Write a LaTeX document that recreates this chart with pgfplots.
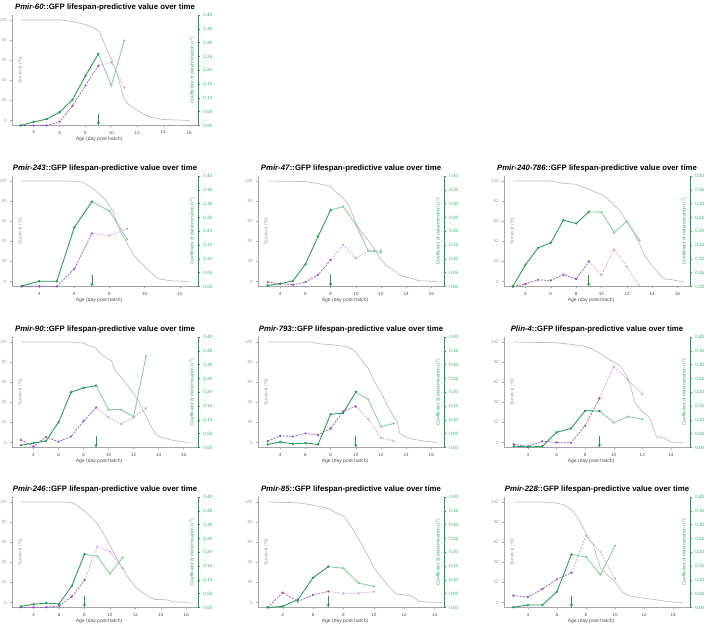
\documentclass[border=0pt]{standalone}
\usepackage{fontspec}
\setmainfont{Liberation Sans}
\usepackage{pgfplots}
\pgfplotsset{compat=1.18}
\usetikzlibrary{arrows.meta}
\definecolor{survgray}{HTML}{BDBDBD}
\definecolor{axgray}{HTML}{A5A5A5}
\definecolor{tickgray}{HTML}{A0A0A0}
\definecolor{textgray}{HTML}{505050}
\definecolor{gr}{HTML}{229954}
\definecolor{grlight}{HTML}{8CCB9F}
\definecolor{grtick}{HTML}{3BAA66}
\definecolor{pu}{HTML}{9A4FC4}
\definecolor{pulight}{HTML}{C8A6DE}

\pgfplotsset{
  base/.style={scale only axis, width=186pt, height=110.5pt, anchor=north west, clip=false,
    tick align=outside, major tick length=1.8pt,
    every tick label/.append style={font=\fontsize{4.6}{5.5}\selectfont},
    /pgf/number format/assume math mode=true},
  surv/.style={base, ymin=-5, ymax=105, ytick={0,20,40,60,80,100},
    axis y line*=left, axis x line*=bottom,
    y axis line style={draw=axgray, line width=0.4pt, -},
    x axis line style={draw=axgray, line width=0.4pt, -},
    ytick style={draw=axgray, line width=0.4pt}, xtick style={draw=axgray, line width=0.4pt},
    yticklabel style={text=tickgray}, xticklabel style={text=textgray},
    xlabel={Age (day post-hatch)},
    xlabel style={font=\fontsize{5}{6}\selectfont, text=textgray, at={(axis description cs:0.468,0)}, anchor=center, yshift=-13.5pt},
    title style={font=\bfseries\fontsize{7.8}{9}\selectfont, text=black, at={(0.5,1)}, anchor=base, yshift=0pt}},
  rsq/.style={base, ymin=0, ymax=0.4, ytick={0,0.05,0.1,0.15,0.2,0.25,0.3,0.35,0.4},
    axis y line*=right, axis x line=none,
    y axis line style={draw=gr, line width=0.4pt, -}, ytick style={draw=gr, line width=0.4pt},
    yticklabel style={text=grtick, /pgf/number format/.cd, fixed, fixed zerofill, precision=2}},
  survline/.style={survgray, line width=0.7pt, no marks},
  gdark/.style={gr, line width=0.85pt, mark=*, mark size=0.7pt},
  glight/.style={grlight, line width=0.85pt, mark=*, mark size=0.7pt},
  pdark/.style={pu, line width=0.7pt, dash pattern=on 2pt off 1.2pt, mark=*, mark size=0.7pt, mark options={solid}},
  plight/.style={pulight, line width=0.7pt, dash pattern=on 2pt off 1.2pt, mark=*, mark size=0.7pt, mark options={solid}},
  arr/.style={draw=gr, fill=gr, line width=0.6pt, no marks, -{Stealth[length=3.6pt, width=3.2pt]}},
  p1/.style={at={(12pt,-15pt)}, xmin=2.33, xmax=16.69, xtick={4,6,...,16}},
  p2/.style={at={(12pt,-176pt)}, xmin=2.45, xmax=13.04, xtick={4,6,...,12}},
  p3/.style={at={(258pt,-176pt)}, xmin=2.23, xmax=17.01, xtick={4,6,...,16}},
  p4/.style={at={(504pt,-176pt)}, xmin=2.31, xmax=16.99, xtick={4,6,...,16}},
  p5/.style={at={(12pt,-337pt)}, xmin=2.28, xmax=17.15, xtick={4,6,...,16}},
  p6/.style={at={(258pt,-337pt)}, xmin=2.23, xmax=17.01, xtick={4,6,...,16}},
  p7/.style={at={(504pt,-337pt)}, xmin=2.32, xmax=15.34, xtick={4,6,...,14}},
  p8/.style={at={(12pt,-497pt)}, xmin=2.30, xmax=16.92, xtick={4,6,...,16}},
  p9/.style={at={(258pt,-497pt)}, xmin=2.37, xmax=14.62, xtick={4,6,...,14}},
  p10/.style={at={(504pt,-497pt)}, xmin=2.36, xmax=15.16, xtick={4,6,...,14}},
}

% #1 position style, #2 title, #3 survival, #4/#5 r2 before/after, #6/#7 purple before/after, #8 arrow day
\newcommand{\panel}[8]{%
  \begin{axis}[surv, #1, title={#2}]
    \addplot[survline] coordinates {#3};
    \node[rotate=90, font=\fontsize{5}{6}\selectfont, text=tickgray] at (rel axis cs:0.045,0.5) {Survival (\%)};
  \end{axis}
  \begin{axis}[rsq, #1]
    \addplot[plight] coordinates {#7};
    \addplot[glight] coordinates {#5};
    \addplot[pdark] coordinates {#6};
    \addplot[gdark] coordinates {#4};
    \addplot[arr] coordinates {(#8,0.042) (#8,0.0)};
    \node[rotate=90, font=\fontsize{4.8}{6}\selectfont, text=grtick] at (rel axis cs:0.967,0.5) {Coefficient of determination (\textit{r}\textsuperscript{2})};
  \end{axis}}

\begin{document}
\begin{tikzpicture}
\path[use as bounding box] (0,0) rectangle (706pt,-632pt);

\panel{p1}{\textit{Pmir-60}::GFP lifespan-predictive value over time}
{(3,100)(4,100)(5,100)(6,100)(6.5,99.5)(7,98.5)(7.5,97)(8,95.5)(8.5,93)(8.8,91)(9.1,88)(9.35,80)(9.6,72)(10,62)(10.4,48)(10.8,30)(11,21)(11.4,15)(11.9,11)(12.4,7)(13,3.5)(13.5,2)(14,1)(15,0.5)(16,0)}
{(3,0)(4,0.013)(5,0.023)(6,0.048)(7,0.093)(8,0.18)(9,0.259)}
{(9,0.259)(10,0.145)(11,0.307)}
{(3,0)(4,0)(5,0)(6,0.014)(7,0.071)(8,0.145)(9,0.216)}
{(9,0.216)(10,0.229)(11,0.137)}
{9}

\panel{p2}{\textit{Pmir-243}::GFP lifespan-predictive value over time}
{(3,100)(5.5,100)(6,99.6)(6.5,98.7)(7,93)(7.5,86)(7.85,79.5)(8.2,70)(8.6,50)(9,38)(9.35,26.5)(9.7,20)(10.1,13.2)(10.5,7)(10.8,2.6)(11.5,0.7)(12.5,0)}
{(3,0.002)(4,0.019)(5,0.019)(6,0.214)(7,0.307)}
{(7,0.307)(8,0.273)(9,0.171)}
{(3,0)(4,0.002)(5,0)(6,0.064)(7,0.192)}
{(7,0.192)(8,0.185)(9,0.209)}
{7}

\panel{p3}{\textit{Pmir-47}::GFP lifespan-predictive value over time}
{(3,100)(6,99.5)(7,97.5)(8,94.5)(8.5,88)(9,83)(9.5,75)(10,58)(10.5,48)(11,41)(11.5,32)(12,21.5)(12.5,15)(13,11.5)(13.5,6)(14,4.3)(14.5,3)(15,0.7)(15.5,0.5)(16.5,0)}
{(3,0.004)(4,0.01)(5,0.02)(6,0.081)(7,0.181)(8,0.277)}
{(8,0.277)(9,0.289)(10,0.225)(11,0.128)(12,0.124)}
{(3,0.016)(4,0.01)(5,0.006)(6,0.016)(7,0.042)(8,0.096)}
{(8,0.096)(9,0.151)(10,0.102)(11,0.129)(12,0.132)}
{8}

\panel{p4}{\textit{Pmir-240-786}::GFP lifespan-predictive value over time}
{(3,100)(6,100)(7,97.7)(8,96.7)(8.5,94)(9,92)(9.5,89)(10,86.7)(10.5,82)(11,75.7)(11.5,70)(12,59)(12.5,50)(13,37)(13.5,24)(14,15.7)(14.5,8)(15,2.3)(15.5,2)(16,0.5)(16.5,0)}
{(3,0)(4,0.078)(5,0.14)(6,0.158)(7,0.24)(8,0.228)(9,0.27)}
{(9,0.27)(10,0.269)(11,0.195)(12,0.236)(13,0.167)}
{(3,0)(4,0.009)(5,0.024)(6,0.022)(7,0.043)(8,0.027)(9,0.091)}
{(9,0.091)(10,0.041)(11,0.134)(12,0.072)(13,0)}
{9}

\panel{p5}{\textit{Pmir-90}::GFP lifespan-predictive value over time}
{(3,100)(7,100)(8,99)(8.5,96)(9,94)(9.3,89)(9.6,86)(10.25,81)(10.5,72)(11.2,62)(11.8,52.5)(12.4,41)(13,26)(13.4,16)(13.8,7.6)(14.4,4.3)(15.2,2)(16.4,0)}
{(3,0.008)(4,0.016)(5,0.024)(6,0.091)(7,0.2)(8,0.216)(9,0.224)}
{(9,0.224)(10,0.137)(11,0.137)(12,0.111)(13,0.33)}
{(3,0.027)(4,0.004)(5,0.038)(6,0.021)(7,0.04)(8,0.096)(9,0.145)}
{(9,0.145)(10,0.109)(11,0.085)(12,0.109)(13,0.142)}
{9}

\panel{p6}{\textit{Pmir-793}::GFP lifespan-predictive value over time}
{(3,100)(6.5,100)(7,98.3)(8,97.4)(9,96)(9.5,94.4)(10,90)(10.5,81)(11,73.5)(11.5,60)(12,50)(12.5,37)(13,25.5)(13.3,20.5)(13.5,9)(14,5.6)(14.5,3.3)(15,2.3)(15.5,1.3)(16.4,0)}
{(3,0.011)(4,0.02)(5,0.013)(6,0.016)(7,0.011)(8,0.12)(9,0.125)(10,0.201)}
{(10,0.201)(11,0.173)(12,0.075)(13,0.087)}
{(3,0.023)(4,0.042)(5,0.04)(6,0.051)(7,0.045)(8,0.069)(9,0.131)(10,0.149)}
{(10,0.149)(11,0.102)(12,0.035)(13,0.023)}
{10}

\panel{p7}{\textit{Plin-4}::GFP lifespan-predictive value over time}
{(3,100)(6,99.3)(7,97.7)(8,95.7)(8.5,93)(9,89)(9.5,84)(10,80)(10.5,76)(11,63.6)(11.25,52)(11.5,39)(12,31)(12.5,25)(12.75,15)(13,5.6)(13.5,4.5)(14,0.3)(14.75,0)}
{(3,0.005)(4,0.002)(5,0.004)(6,0.055)(7,0.069)(8,0.133)(9,0.132)}
{(9,0.132)(10,0.09)(11,0.112)(12,0.102)}
{(3,0.012)(4,0.004)(5,0.023)(6,0.018)(7,0.017)(8,0.079)(9,0.178)}
{(9,0.178)(10,0.293)(11,0.245)(12,0.194)}
{9}

\panel{p8}{\textit{Pmir-246}::GFP lifespan-predictive value over time}
{(3,100)(6.5,100)(7,99.3)(7.5,96)(8,91)(8.5,85)(9,78.6)(9.5,68)(10,56.6)(10.5,45)(11,33.6)(11.5,23.7)(12,15.5)(12.5,10.5)(13,6.3)(13.5,3)(14,3)(14.5,2.5)(15,0.7)(16.25,0)}
{(3,0.004)(4,0.012)(5,0.016)(6,0.013)(7,0.078)(8,0.193)}
{(8,0.193)(9,0.186)(10,0.122)(11,0.181)}
{(3,0.001)(4,0.001)(5,0.001)(6,0.006)(7,0.039)(8,0.099)}
{(8,0.099)(9,0.22)(10,0.202)(11,0.142)}
{8}

\panel{p9}{\textit{Pmir-85}::GFP lifespan-predictive value over time}
{(3,100)(5,99.3)(6,97)(7,93.4)(7.5,89.4)(8,86)(8.5,76)(9,63)(9.5,49.7)(10,34.8)(10.5,24.8)(11,15.6)(11.5,8.3)(12,7.6)(12.5,6.6)(13,1)(13.5,0.5)(14.5,0)}
{(3,0)(4,0.004)(5,0.029)(6,0.108)(7,0.148)}
{(7,0.148)(8,0.142)(9,0.088)(10,0.077)}
{(3,0)(4,0.054)(5,0.022)(6,0.046)(7,0.058)}
{(7,0.058)(8,0.051)(9,0.052)(10,0.057)}
{7}

\panel{p10}{\textit{Pmir-228}::GFP lifespan-predictive value over time}
{(3,100)(5,100)(5.5,99.5)(6,99)(6.5,97)(7,92.7)(7.5,83.4)(8,68.5)(8.5,57)(9,34.4)(9.5,27)(10,20.5)(10.5,10.6)(11,6.6)(11.5,5.6)(12,4)(12.5,3.3)(13,2.3)(13.5,1.3)(14,0.3)(14.6,0)}
{(3,0.001)(4,0.009)(5,0.009)(6,0.057)(7,0.192)}
{(7,0.192)(8,0.183)(9,0.119)(10,0.224)}
{(3,0.043)(4,0.038)(5,0.067)(6,0.102)(7,0.126)}
{(7,0.126)(8,0.26)(9,0.201)(10,0.104)}
{7}

\end{tikzpicture}
\end{document}
